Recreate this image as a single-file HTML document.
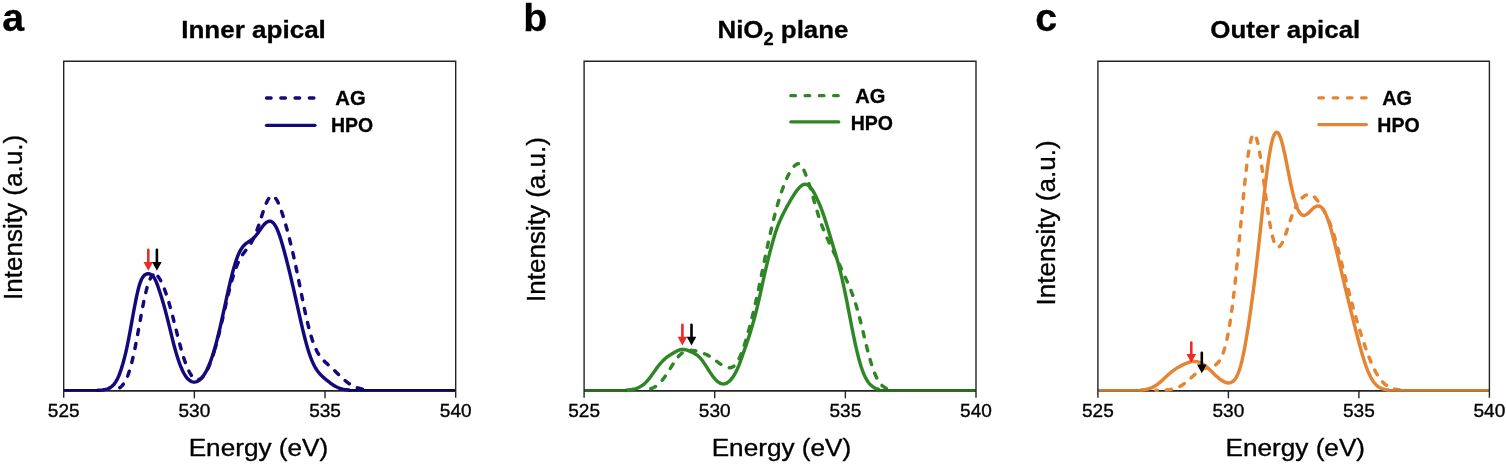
<!DOCTYPE html>
<html lang="en">
<head>
<meta charset="utf-8">
<title>Oxygen K-edge spectra: inner apical, NiO2 plane, outer apical</title>
<style>
html,body{margin:0;padding:0;background:#fff;}
body{width:1506px;height:466px;overflow:hidden;}
svg{display:block;}
text{font-family:"Liberation Sans",sans-serif;fill:#000;stroke:#000;stroke-width:0.35px;stroke-linejoin:round;}
.b{font-weight:bold;stroke-width:0.3px;}
.r{font-weight:normal;}
.d{fill:none;stroke-linecap:round;stroke-linejoin:round;}
</style>
</head>
<body>
<svg width="1506" height="466" viewBox="0 0 1506 466">
<rect x="0" y="0" width="1506" height="466" fill="#ffffff"/>
<g id="panel-a">
<text class="b" font-size="39.3" transform="translate(2.22,30.9) scale(1.0000,1)">a</text>
<text class="b" font-size="24.8" transform="translate(181.24,38) scale(1.0500,1)">Inner apical</text>
<text class="r" font-size="26.6" transform="translate(21.8,300.12) rotate(-90) scale(0.9818,1)">Intensity (a.u.)</text>
<text class="r" font-size="24.4" transform="translate(188.64,455.9) scale(1.0732,1)">Energy (eV)</text>
<path d="M63.7,390.85H455.7" fill="none" stroke="#242424" stroke-width="1.7"/>
<path class="d" d="M113.7,390.3L114.7,389.8L115.7,389.6L116.7,389.3L117.7,388.9L118.7,388.4L119.7,387.8L120.7,387.1L121.7,386.1L122.7,385.0L123.7,383.7L124.7,382.1L125.7,380.3L126.7,378.2L127.7,375.8L128.7,373.0L129.7,370.0L130.7,366.5L131.7,362.8L132.7,358.7L133.7,354.3L134.7,349.6L135.7,344.7L136.7,339.5L137.7,334.1L138.7,328.7L139.7,323.2L140.7,317.7L141.7,312.3L142.7,307.0L143.7,302.0L144.7,297.2L145.7,292.8L146.7,288.9L147.7,285.3L148.7,282.3L149.7,279.8L150.7,277.7L151.7,276.2L152.7,275.2L153,275.0" stroke="#14097c" stroke-width="3.45" stroke-dasharray="5.2 9.06" stroke-dashoffset="7.66"/>
<path class="d" d="M153,275.0L153.7,274.6L154.7,274.4L155.7,274.7L156.7,275.3L157.7,276.2L158.7,277.4L159.7,278.9L160.7,280.6L161.7,282.6L162.7,284.8L163.7,287.2L164.7,289.8L165.7,292.5L166.7,295.5L167.7,298.6L168.7,301.9L169.7,305.4L170.7,308.9L171.7,312.6L172.7,316.4L173.7,320.3L174.7,324.3L175.7,328.2L176.7,332.2L177.7,336.1L178.7,340.0L179.7,343.8L180.7,347.5L181.7,351.0L182.7,354.5L183.7,357.7L184.7,360.7L185.7,363.5L186.7,366.2L187.7,368.5L188.7,370.7L189.7,372.6L190.7,374.3L191.7,375.8L192.7,377.0L193.7,378.0L194.7,378.7L195.7,379.3L196.7,379.6L197.7,379.7L198.7,379.5L199.7,379.2L200.7,378.7L201.7,377.9L202.7,377.0L203.7,375.8L204.7,374.4L205.7,372.9L206.7,371.1L207.7,369.2L208.7,367.0L209.7,364.6L210.7,362.1L211.7,359.3L212.7,356.3L213.7,353.2L214.7,349.9L215,348.8" stroke="#14097c" stroke-width="3.45" stroke-dasharray="5.2 9.06" stroke-dashoffset="8.56"/>
<path class="d" d="M215,348.8L215.7,346.4L216.7,342.7L217.7,338.9L218.7,335.0L219.7,330.9L220.7,326.8L221.7,322.5L222.7,318.3L223.7,313.9L224.7,309.6L225.7,305.3L226.7,301.0L227.7,296.8L228.7,292.7L229.7,288.7L230.7,284.9L231.7,281.2L232.7,277.8L233.7,274.5L234.7,271.4L235.7,268.6L236.7,266.0L237.7,263.6L238.7,261.4L239.7,259.4L240.7,257.6L241.7,256.0L242.7,254.5L243.7,253.1L244.7,251.8L245.7,250.5L246.7,249.3L247.7,248.0L248.7,246.6L249.7,245.2L250.7,243.6L251.7,241.9L252.7,240.0L253.7,238.0L254.7,235.8L255.7,233.4L256.7,230.9L257.7,228.1L258.7,225.3L259.7,222.3L260.7,219.2L261.7,216.1L262.7,213.0L263.7,210.0L264.7,207.2L265.7,204.6L266.7,202.2L267.7,200.2L268.7,198.6L269.7,197.3L270.7,196.4L271.7,196.0L272.7,196.0L273.7,196.4L274.7,197.2L275.7,198.4L276.7,199.9L277.7,201.7L278.7,203.9L279.7,206.3L280.7,209.0L281.7,211.8L282.7,214.8L283.7,218.0L284.7,221.3L285.7,224.8L286.7,228.3L287.7,232.0L288.7,235.8L289.7,239.7L290.7,243.8L291.7,247.9L292.7,252.2L293.7,256.6L294.7,261.2L295.7,265.8L296.7,270.6L297.7,275.5L298.7,280.4L299.7,285.4L300.7,290.4L301.7,295.4L302.7,300.3L303.7,305.2L304.7,310.0L305.7,314.6L306.7,319.1L307.7,323.3L308.7,327.4L309.7,331.2L310.7,334.7L311.7,338.0L312.7,341.1L313.7,343.9L314.7,346.4L315.7,348.7L316.7,350.8L317.7,352.6L318.7,354.3L319.7,355.8L320.7,357.2L321.7,358.4L322.7,359.6L323.7,360.6L324.7,361.6L325.7,362.5L326.7,363.4L327.7,364.3L328.7,365.2L329.7,366.1L330.7,367.0L331.7,367.9L332.7,368.8L333.7,369.8L334.7,370.7L335.7,371.7L336.7,372.7L337.7,373.6L338.7,374.6L339.7,375.6L340.7,376.5L341.7,377.5L342.7,378.4L343.7,379.3L344.7,380.2L345.7,381.0L346.7,381.8L347.7,382.6L348.7,383.3L349.7,384.0L350.7,384.6L351.7,385.2L352.7,385.8L353.7,386.3L354.7,386.7L355.7,387.2L356.7,387.6L357.7,387.9L358.7,388.2L359.7,388.5L360.7,388.8L361.7,389.0L362.7,389.2L363.7,389.3L364.7,389.5L365.7,389.6L366.7,389.7L367.7,389.8L368.7,390.3" stroke="#14097c" stroke-width="3.45" stroke-dasharray="5.2 9.06" stroke-dashoffset="1.29"/>
<path class="d" d="M97.7,390.3L98.7,390.3L99.7,390.2L100.7,390.2L101.7,390.1L102.7,390.0L103.7,389.8L104.7,389.6L105.7,389.4L106.7,389.1L107.7,388.8L108.7,388.4L109.7,387.9L110.7,387.3L111.7,386.5L112.7,385.7L113.7,384.6L114.7,383.4L115.7,381.9L116.7,380.2L117.7,378.2L118.7,376.0L119.7,373.5L120.7,370.7L121.7,367.6L122.7,364.3L123.7,360.7L124.7,356.9L125.7,352.8L126.7,348.4L127.7,343.7L128.7,338.6L129.7,333.4L130.7,327.9L131.7,322.4L132.7,316.8L133.7,311.3L134.7,306.0L135.7,300.8L136.7,296.0L137.7,291.5L138.7,287.5L139.7,284.1L140.7,281.3L141.7,279.0L142.7,277.3L143.7,275.9L144.7,275.0L145.7,274.3L146.7,274.0L147.7,273.8L148.7,273.8L149.7,274.0L150.7,274.4L151.7,275.1L152.7,276.0L153.7,277.2L154.7,278.8L155.7,280.7L156.7,283.1L157.7,285.8L158.7,288.7L159.7,291.7L160.7,294.8L161.7,298.0L162.7,301.3L163.7,304.8L164.7,308.3L165.7,312.0L166.7,315.9L167.7,319.8L168.7,323.8L169.7,327.9L170.7,332.0L171.7,336.1L172.7,340.2L173.7,344.1L174.7,347.8L175.7,351.4L176.7,354.8L177.7,358.0L178.7,361.0L179.7,363.9L180.7,366.5L181.7,368.8L182.7,371.0L183.7,373.0L184.7,374.7L185.7,376.3L186.7,377.6L187.7,378.8L188.7,379.7L189.7,380.5L190.7,381.2L191.7,381.6L192.7,381.9L193.7,382.1L194.7,382.1L195.7,381.9L196.7,381.6L197.7,381.2L198.7,380.6L199.7,379.8L200.7,379.0L201.7,377.9L202.7,376.7L203.7,375.3L204.7,373.8L205.7,372.1L206.7,370.2L207.7,368.1L208.7,365.9L209.7,363.5L210.7,360.8L211.7,358.0L212.7,355.0L213.7,351.8L214.7,348.4L215.7,344.9L216.7,341.1L217.7,337.2L218.7,333.2L219.7,329.0L220.7,324.6L221.7,320.2L222.7,315.7L223.7,311.2L224.7,306.6L225.7,302.0L226.7,297.4L227.7,292.9L228.7,288.5L229.7,284.1L230.7,279.9L231.7,275.9L232.7,272.0L233.7,268.4L234.7,265.0L235.7,261.8L236.7,258.9L237.7,256.2L238.7,253.8L239.7,251.7L240.7,249.9L241.7,248.3L242.7,246.9L243.7,245.7L244.7,244.7L245.7,243.8L246.7,243.0L247.7,242.4L248.7,241.7L249.7,241.1L250.7,240.4L251.7,239.7L252.7,238.8L253.7,237.9L254.7,236.9L255.7,235.8L256.7,234.5L257.7,233.2L258.7,231.8L259.7,230.4L260.7,229.0L261.7,227.6L262.7,226.3L263.7,225.0L264.7,223.9L265.7,223.0L266.7,222.2L267.7,221.7L268.7,221.3L269.7,221.2L270.7,221.3L271.7,221.8L272.7,222.4L273.7,223.4L274.7,224.8L275.7,226.4L276.7,228.3L277.7,230.6L278.7,233.1L279.7,235.9L280.7,239.0L281.7,242.3L282.7,245.7L283.7,249.3L284.7,253.0L285.7,256.8L286.7,260.6L287.7,264.6L288.7,268.6L289.7,272.7L290.7,276.8L291.7,281.1L292.7,285.3L293.7,289.7L294.7,294.1L295.7,298.5L296.7,303.0L297.7,307.5L298.7,312.0L299.7,316.4L300.7,320.8L301.7,325.2L302.7,329.4L303.7,333.6L304.7,337.5L305.7,341.4L306.7,345.0L307.7,348.5L308.7,351.7L309.7,354.7L310.7,357.5L311.7,360.1L312.7,362.4L313.7,364.6L314.7,366.5L315.7,368.3L316.7,369.8L317.7,371.2L318.7,372.5L319.7,373.7L320.7,374.8L321.7,375.8L322.7,376.7L323.7,377.6L324.7,378.5L325.7,379.3L326.7,380.2L327.7,381.0L328.7,381.7L329.7,382.5L330.7,383.3L331.7,384.0L332.7,384.7L333.7,385.3L334.7,385.9L335.7,386.5L336.7,387.0L337.7,387.5L338.7,387.9L339.7,388.3L340.7,388.6L341.7,388.9L342.7,389.2L343.7,389.4L344.7,389.6L345.7,389.7L346.7,389.8L347.7,389.9L348.7,390.0L349.7,390.3" stroke="#14097c" stroke-width="3.45"/>
<path d="M63.7,390.3H98.7M348.7,390.3H455.7" fill="none" stroke="#0c0658" stroke-width="2.75"/>
<path d="M63.7,397.7V61.2H455.7V397.7" fill="none" stroke="#242424" stroke-width="1.4"/>
<text class="r" font-size="19" transform="translate(47.81,417.25) scale(1.0030,1)">525</text>
<line x1="194.37" y1="390.3" x2="194.37" y2="398.3" stroke="#242424" stroke-width="1.4"/>
<text class="r" font-size="19" transform="translate(178.45,417.25) scale(1.0030,1)">530</text>
<line x1="325.03" y1="390.3" x2="325.03" y2="398.3" stroke="#242424" stroke-width="1.4"/>
<text class="r" font-size="19" transform="translate(309.14,417.25) scale(1.0030,1)">535</text>
<text class="r" font-size="19" transform="translate(439.79,417.25) scale(1.0030,1)">540</text>
<path d="M147,249.9A1.3,1.3 0 0 1 149.6,249.9V262H153.1L148.3,270.8L143.5,262H147Z" fill="#ee2a24"/>
<path d="M155.6,249.9A1.3,1.3 0 0 1 158.2,249.9V262H161.7L156.9,270.8L152.1,262H155.6Z" fill="#000"/>
<line class="d" x1="266.55" y1="98" x2="314.95" y2="98" stroke="#14097c" stroke-width="3.3" stroke-dasharray="4.6 9.65"/>
<line class="d" x1="266.55" y1="125.3" x2="314.95" y2="125.3" stroke="#14097c" stroke-width="3.3"/>
<text class="b" font-size="19.4" transform="translate(335.29,104.9) scale(1.0437,1)">AG</text>
<text class="b" font-size="19.4" transform="translate(330.89,131.9) scale(1.0021,1)">HPO</text>
</g>
<g id="panel-b">
<text class="b" font-size="39.3" transform="translate(523.35,30.9) scale(1.0000,1)">b</text>
<text class="b" font-size="24.8" transform="translate(717.45,38) scale(1.0440,1)">NiO<tspan font-size="17.5" dy="6.7">2</tspan><tspan dy="-6.7"> plane</tspan></text>
<text class="r" font-size="26.6" transform="translate(544.8,302.01) rotate(-90) scale(0.9794,1)">Intensity (a.u.)</text>
<text class="r" font-size="24.4" transform="translate(711.64,455.9) scale(1.0732,1)">Energy (eV)</text>
<path d="M584.1,390.85H976" fill="none" stroke="#242424" stroke-width="1.7"/>
<path class="d" d="M646.1,390.3L647.1,389.6L648.1,389.4L649.1,389.2L650.1,388.9L651.1,388.6L652.1,388.2L653.1,387.8L654.1,387.3L655.1,386.7L656.1,386.1L657.1,385.3L658.1,384.5L659.1,383.6L660.1,382.6L661.1,381.6L662.1,380.4L663.1,379.1L664.1,377.8L665.1,376.4L666.1,375.0L667.1,373.4L668.1,371.9L669.1,370.3L670.1,368.7L671.1,367.1L672.1,365.4L673.1,363.9L674.1,362.3L675.1,360.8L676.1,359.4L677.1,358.1L678.1,356.9L679.1,355.7L680.1,354.7L681.1,353.8L682.1,353.0L683.1,352.3L684.1,351.7L685.1,351.3L686.1,350.9L687.1,350.6L688.1,350.4L689.1,350.3L690.1,350.3L691.1,350.3L692.1,350.4L693.1,350.5L694.1,350.6L695.1,350.8L696.1,351.0L697.1,351.3L698.1,351.5L699.1,351.8L700.1,352.1L701.1,352.4L702.1,352.8L703.1,353.1L704.1,353.5L705.1,354.0L706.1,354.4L707.1,354.9L708.1,355.4L709.1,356.0L710.1,356.6L711.1,357.2L712.1,357.9L713.1,358.6L714.1,359.3L715.1,360.1L716.1,360.8L717.1,361.6L718.1,362.3L719.1,363.1L720.1,363.8L721.1,364.5L722.1,365.2L723.1,365.8L724.1,366.4L725.1,366.8L726.1,367.2L727.1,367.5L728.1,367.8L729.1,367.8L730.1,367.8L731.1,367.6L732.1,367.2L733.1,366.7L734.1,365.9L735.1,365.0L736.1,363.8L737.1,362.3L738.1,360.6L739.1,358.7L740.1,356.5L741.1,354.1L742.1,351.6L743.1,348.8L744.1,345.8L745.1,342.7L746.1,339.4L747.1,336.0L748.1,332.5L749.1,328.9L750.1,325.2L751.1,321.3L752.1,317.4L753.1,313.3L754.1,309.1L755.1,304.7L756.1,300.3L757.1,295.8L758.1,291.2L759.1,286.5L760.1,281.8L761.1,277.0L762.1,272.1L763.1,267.3L764.1,262.4L765.1,257.6L766.1,252.8L767.1,248.0L768.1,243.4L769.1,238.8L770.1,234.3L771.1,229.9L772.1,225.7L773.1,221.5L774.1,217.5L775.1,213.6L776.1,209.9L777.1,206.3L778.1,202.8L779.1,199.4L780.1,196.2L781.1,193.2L782.1,190.2L783.1,187.4L784.1,184.8L785.1,182.3L786.1,179.9L787.1,177.6L788.1,175.5L789.1,173.5L790.1,171.7L791.1,170.1L792.1,168.6L793.1,167.3L794.1,166.2L795.1,165.3L796.1,164.6L797.1,164.1L798.1,163.7L799.1,163.6L800.1,163.8L801.1,164.8L802.1,166.3L803.1,168.3L804.1,170.6L805.1,173.0L806.1,175.5L807.1,178.2L808.1,181.1L809.1,184.1L810.1,187.3L811.1,190.6L812.1,194.0L813.1,197.5L814.1,200.9L815.1,204.4L816.1,207.8L817.1,211.1L818.1,214.4L819.1,217.5L820.1,220.5L821.1,223.4L822.1,226.1L823.1,228.7L824.1,231.2L825.1,233.6L826.1,235.9L827.1,238.1L828.1,240.3L829.1,242.4L830.1,244.5L831.1,246.6L832.1,248.7L833.1,250.8L834.1,252.9L835.1,255.0L836.1,257.2L837.1,259.4L838.1,261.6L839.1,263.8L840.1,266.0L841.1,268.2L842.1,270.4L843.1,272.6L844.1,274.7L845.1,276.9L846.1,279.1L847.1,281.4L848.1,283.6L849.1,285.9L850.1,288.3L851.1,290.8L852.1,293.4L853.1,296.2L854.1,299.1L855.1,302.1L856.1,305.3L857.1,308.7L858.1,312.3L859.1,316.0L860.1,319.8L861.1,323.8L862.1,327.9L863.1,332.0L864.1,336.1L865.1,340.3L866.1,344.4L867.1,348.4L868.1,352.3L869.1,356.0L870.1,359.6L871.1,363.0L872.1,366.2L873.1,369.1L874.1,371.8L875.1,374.3L876.1,376.6L877.1,378.6L878.1,380.4L879.1,381.9L880.1,383.3L881.1,384.5L882.1,385.5L883.1,386.4L884.1,387.1L885.1,387.7L886.1,388.3L887.1,388.7L888.1,389.0L889.1,389.3L890.1,389.5L891.1,390.3" stroke="#2f8626" stroke-width="3.45" stroke-dasharray="5.2 9.16" stroke-dashoffset="9.31"/>
<path class="d" d="M626.1,390.3L627.1,390.1L628.1,390.0L629.1,389.9L630.1,389.8L631.1,389.7L632.1,389.5L633.1,389.3L634.1,389.1L635.1,388.9L636.1,388.6L637.1,388.2L638.1,387.8L639.1,387.3L640.1,386.8L641.1,386.2L642.1,385.5L643.1,384.8L644.1,384.0L645.1,383.1L646.1,382.1L647.1,381.0L648.1,379.9L649.1,378.7L650.1,377.4L651.1,376.0L652.1,374.6L653.1,373.2L654.1,371.8L655.1,370.4L656.1,369.0L657.1,367.6L658.1,366.3L659.1,365.0L660.1,363.8L661.1,362.6L662.1,361.6L663.1,360.5L664.1,359.6L665.1,358.7L666.1,357.8L667.1,357.0L668.1,356.3L669.1,355.6L670.1,355.0L671.1,354.4L672.1,353.8L673.1,353.2L674.1,352.6L675.1,352.0L676.1,351.5L677.1,350.9L678.1,350.5L679.1,350.1L680.1,349.7L681.1,349.5L682.1,349.4L683.1,349.4L684.1,349.5L685.1,349.7L686.1,349.9L687.1,350.2L688.1,350.5L689.1,350.9L690.1,351.4L691.1,351.8L692.1,352.3L693.1,352.8L694.1,353.3L695.1,353.9L696.1,354.5L697.1,355.2L698.1,356.0L699.1,356.9L700.1,357.9L701.1,359.0L702.1,360.3L703.1,361.6L704.1,363.1L705.1,364.6L706.1,366.1L707.1,367.7L708.1,369.3L709.1,370.9L710.1,372.4L711.1,373.9L712.1,375.3L713.1,376.7L714.1,378.0L715.1,379.1L716.1,380.2L717.1,381.1L718.1,381.9L719.1,382.6L720.1,383.2L721.1,383.6L722.1,383.8L723.1,383.9L724.1,383.9L725.1,383.7L726.1,383.4L727.1,382.9L728.1,382.2L729.1,381.5L730.1,380.5L731.1,379.4L732.1,378.2L733.1,376.7L734.1,375.2L735.1,373.4L736.1,371.5L737.1,369.5L738.1,367.2L739.1,364.8L740.1,362.2L741.1,359.5L742.1,356.7L743.1,353.8L744.1,350.9L745.1,348.0L746.1,345.1L747.1,342.2L748.1,339.2L749.1,336.1L750.1,332.9L751.1,329.7L752.1,326.4L753.1,322.9L754.1,319.3L755.1,315.5L756.1,311.6L757.1,307.6L758.1,303.4L759.1,299.0L760.1,294.6L761.1,290.1L762.1,285.5L763.1,281.0L764.1,276.5L765.1,272.0L766.1,267.7L767.1,263.5L768.1,259.4L769.1,255.4L770.1,251.5L771.1,247.8L772.1,244.1L773.1,240.5L774.1,237.1L775.1,233.8L776.1,230.8L777.1,227.9L778.1,225.2L779.1,222.7L780.1,220.4L781.1,218.1L782.1,216.0L783.1,214.0L784.1,212.0L785.1,210.1L786.1,208.2L787.1,206.3L788.1,204.5L789.1,202.8L790.1,201.0L791.1,199.3L792.1,197.7L793.1,196.1L794.1,194.5L795.1,193.0L796.1,191.6L797.1,190.3L798.1,189.0L799.1,187.9L800.1,186.9L801.1,186.0L802.1,185.3L803.1,184.7L804.1,184.4L805.1,184.3L806.1,184.4L807.1,184.7L808.1,185.2L809.1,186.0L810.1,187.0L811.1,188.2L812.1,189.5L813.1,191.1L814.1,192.9L815.1,194.7L816.1,196.8L817.1,198.9L818.1,201.1L819.1,203.3L820.1,205.7L821.1,208.2L822.1,210.8L823.1,213.6L824.1,216.5L825.1,219.6L826.1,222.8L827.1,226.0L828.1,229.3L829.1,232.6L830.1,235.9L831.1,239.3L832.1,242.6L833.1,246.0L834.1,249.3L835.1,252.6L836.1,256.0L837.1,259.5L838.1,263.0L839.1,266.7L840.1,270.6L841.1,274.7L842.1,278.9L843.1,283.4L844.1,288.0L845.1,292.8L846.1,297.7L847.1,302.7L848.1,307.8L849.1,313.0L850.1,318.2L851.1,323.4L852.1,328.5L853.1,333.5L854.1,338.4L855.1,343.1L856.1,347.6L857.1,351.9L858.1,355.9L859.1,359.7L860.1,363.2L861.1,366.5L862.1,369.5L863.1,372.2L864.1,374.6L865.1,376.8L866.1,378.7L867.1,380.5L868.1,382.0L869.1,383.3L870.1,384.4L871.1,385.4L872.1,386.2L873.1,387.0L874.1,387.6L875.1,388.1L876.1,388.5L877.1,388.8L878.1,389.1L879.1,390.3" stroke="#2f8626" stroke-width="3.45"/>
<path d="M584.1,390.3H627.1M878.1,390.3H976" fill="none" stroke="#256e1d" stroke-width="2.75"/>
<path d="M584.1,397.7V61.2H976V397.7" fill="none" stroke="#242424" stroke-width="1.4"/>
<text class="r" font-size="19" transform="translate(568.21,417.25) scale(1.0030,1)">525</text>
<line x1="714.73" y1="390.3" x2="714.73" y2="398.3" stroke="#242424" stroke-width="1.4"/>
<text class="r" font-size="19" transform="translate(698.82,417.25) scale(1.0030,1)">530</text>
<line x1="845.37" y1="390.3" x2="845.37" y2="398.3" stroke="#242424" stroke-width="1.4"/>
<text class="r" font-size="19" transform="translate(829.48,417.25) scale(1.0030,1)">535</text>
<text class="r" font-size="19" transform="translate(960.09,417.25) scale(1.0030,1)">540</text>
<path d="M681.1,324.7A1.3,1.3 0 0 1 683.7,324.7V336.7H687.2L682.4,345.5L677.6,336.7H681.1Z" fill="#ee2a24"/>
<path d="M690.2,324.7A1.3,1.3 0 0 1 692.8,324.7V336.7H696.3L691.5,345.5L686.7,336.7H690.2Z" fill="#000"/>
<line class="d" x1="790.85" y1="95.7" x2="838.75" y2="95.7" stroke="#2f8626" stroke-width="3.3" stroke-dasharray="4.6 9.65"/>
<line class="d" x1="790.85" y1="121.95" x2="838.75" y2="121.95" stroke="#2f8626" stroke-width="3.3"/>
<text class="b" font-size="19.4" transform="translate(855.3,102.9) scale(1.0364,1)">AG</text>
<text class="b" font-size="19.4" transform="translate(850.68,129.5) scale(1.0071,1)">HPO</text>
</g>
<g id="panel-c">
<text class="b" font-size="39.3" transform="translate(1035.13,30.9) scale(1.0000,1)">c</text>
<text class="b" font-size="24.8" transform="translate(1210.26,38) scale(1.0475,1)">Outer apical</text>
<text class="r" font-size="26.6" transform="translate(1054.8,305.41) rotate(-90) scale(0.9794,1)">Intensity (a.u.)</text>
<text class="r" font-size="24.4" transform="translate(1225.44,455.9) scale(1.0732,1)">Energy (eV)</text>
<path d="M1097.9,390.85H1489.4" fill="none" stroke="#242424" stroke-width="1.7"/>
<path class="d" d="M1155.9,390.3L1156.9,390.3L1157.9,390.3L1158.9,390.2L1159.9,390.2L1160.9,390.2L1161.9,390.2L1162.9,390.1L1163.9,390.1L1164.9,390.0L1165.9,390.0L1166.9,389.9L1167.9,389.8L1168.9,389.7L1169.9,389.6L1170.9,389.4L1171.9,389.2L1172.9,389.0L1173.9,388.7L1174.9,388.5L1175.9,388.1L1176.9,387.8L1177.9,387.4L1178.9,386.9L1179.9,386.4L1180.9,385.9L1181.9,385.3L1182.9,384.6L1183.9,383.9L1184.9,383.2L1185.9,382.4L1186.9,381.6L1187.9,380.7L1188.9,379.9L1189.9,379.0L1190.9,378.1L1191.9,377.1L1192.9,376.2L1193.9,375.3L1194.9,374.4L1195.9,373.6L1196.9,372.8L1197.9,372.0L1198.9,371.3L1199.9,370.7L1200.9,370.1L1201.9,369.6L1202.9,369.1L1203.9,368.7L1204.9,368.3L1205.9,368.0L1206.9,367.8L1207.9,367.5L1208.9,367.3L1209.9,367.1L1210.9,366.8L1211.9,366.6L1212.9,366.2L1213.9,365.8L1214.9,365.3L1215.9,364.7L1216.9,363.8L1217.9,362.8L1218.9,361.6L1219.9,360.1L1220.9,358.3L1221.9,356.2L1222.9,353.8L1223.9,350.9L1224.9,347.6L1225.9,343.8L1226.9,339.5L1227.9,334.7L1228.9,329.3L1229.9,323.3L1230.9,316.7L1231.9,309.5L1232.9,301.8L1233.9,293.4L1234.9,284.6L1235.9,275.2L1236.9,265.3L1237.9,255.1L1238.9,244.6L1239.9,233.9L1240.9,223.1L1241.9,212.4L1242.9,201.9L1243.9,191.6L1244.9,181.9L1245.9,172.7L1246.9,164.2L1247.9,156.6L1248.9,150.0L1249.9,144.5L1250.9,140.1L1251.9,136.9L1252.9,134.9L1253.9,134.2L1254.9,134.8L1255.9,136.6L1256.9,139.5L1257.9,143.4L1258.9,148.3L1259.9,154.0L1260.9,160.4L1261.9,167.3L1262.9,174.6L1263.9,182.1L1264.9,189.7L1265.9,197.2L1266.9,204.5L1267.9,211.5L1268.9,218.0L1269.9,224.0L1270.9,229.4L1271.9,234.1L1272.9,238.1L1273.9,241.3L1274.9,243.8L1275.9,245.6L1276.9,246.7L1277.9,247.2L1278.9,247.0L1279.9,246.2L1280.9,245.0L1281.9,243.3L1282.9,241.2L1283.9,238.8L1284.9,236.2L1285.9,233.4L1286.9,230.4L1287.9,227.5L1288.9,224.5L1289.9,221.5L1290.9,218.7L1291.9,215.9L1292.9,213.3L1293.9,210.9L1294.9,208.6L1295.9,206.6L1296.3,205.8" stroke="#e58534" stroke-width="3.45" stroke-dasharray="5.2 8.98" stroke-dashoffset="3.82"/>
<path class="d" d="M1296.3,205.8L1296.9,204.7L1297.9,203.0L1298.9,201.5L1299.9,200.2L1300.9,199.0L1301.9,198.0L1302.9,197.1L1303.9,196.4L1304.9,195.7L1305.9,195.2L1306.9,194.8L1307.9,194.5L1308.9,194.4L1309.9,194.5L1310.9,194.7L1311.9,195.1L1312.9,195.7L1313.9,196.5L1314.9,197.5L1315.9,198.6L1316.9,199.8L1317.9,201.2L1318.9,202.6L1319.9,204.1L1320.9,205.7L1321.9,207.3L1322.9,208.9L1323.9,210.7L1324.9,212.5L1325.9,214.4L1326.9,216.5L1327.9,218.6L1328.9,220.9L1329.9,223.4L1330.9,226.0L1331.9,228.8L1332.9,231.8L1333.9,234.9L1334.9,238.1L1335.9,241.5L1336.9,245.0L1337.9,248.7L1338.9,252.4L1339.9,256.2L1340.9,260.1L1341.9,264.1L1342.9,268.0L1343.9,272.0L1344.9,276.0L1345.9,280.0L1346.9,284.0L1347.9,287.9L1348.9,291.8L1349.9,295.7L1350.9,299.5L1351.9,303.2L1352.9,306.9L1353.9,310.5L1354.9,314.0L1355.9,317.5L1356.9,320.9L1357.9,324.3L1358.9,327.6L1359.9,330.8L1360.9,334.0L1361.9,337.1L1362.9,340.1L1363.9,343.1L1364.9,346.0L1365.9,348.8L1366.9,351.6L1367.9,354.3L1368.9,356.9L1369.9,359.4L1370.9,361.8L1371.9,364.1L1372.9,366.3L1373.9,368.4L1374.9,370.4L1375.9,372.3L1376.9,374.1L1377.9,375.7L1378.9,377.2L1379.9,378.7L1380.9,380.0L1381.9,381.2L1382.9,382.3L1383.9,383.3L1384.9,384.2L1385.9,385.0L1386.9,385.7L1387.9,386.4L1388.9,386.9L1389.9,387.4L1390.9,387.9L1391.9,388.3L1392.9,388.6L1393.9,388.9L1394.9,389.1L1395.9,389.3L1396.9,389.5L1397.9,389.6L1398.9,389.8L1399.9,389.9L1400.9,389.9L1401.9,390.3" stroke="#e58534" stroke-width="3.45" stroke-dasharray="5.2 8.98" stroke-dashoffset="4.33"/>
<path class="d" d="M1140.9,390.3L1141.9,389.9L1142.9,389.8L1143.9,389.7L1144.9,389.6L1145.9,389.4L1146.9,389.2L1147.9,389.0L1148.9,388.7L1149.9,388.4L1150.9,388.0L1151.9,387.6L1152.9,387.1L1153.9,386.6L1154.9,386.1L1155.9,385.4L1156.9,384.8L1157.9,384.0L1158.9,383.2L1159.9,382.4L1160.9,381.5L1161.9,380.6L1162.9,379.7L1163.9,378.8L1164.9,377.8L1165.9,376.9L1166.9,376.0L1167.9,375.0L1168.9,374.1L1169.9,373.3L1170.9,372.4L1171.9,371.6L1172.9,370.9L1173.9,370.1L1174.9,369.4L1175.9,368.8L1176.9,368.1L1177.9,367.5L1178.9,367.0L1179.9,366.4L1180.9,365.9L1181.9,365.3L1182.9,364.8L1183.9,364.4L1184.9,363.9L1185.9,363.5L1186.9,363.1L1187.9,362.7L1188.9,362.3L1189.9,362.0L1190.9,361.8L1191.9,361.6L1192.9,361.5L1193.9,361.4L1194.9,361.4L1195.9,361.5L1196.9,361.6L1197.9,361.9L1198.9,362.2L1199.9,362.6L1200.9,363.0L1201.9,363.6L1202.9,364.2L1203.9,364.8L1204.9,365.6L1205.9,366.4L1206.9,367.2L1207.9,368.1L1208.9,369.0L1209.9,369.9L1210.9,370.9L1211.9,371.8L1212.9,372.8L1213.9,373.8L1214.9,374.7L1215.9,375.7L1216.9,376.6L1217.9,377.4L1218.9,378.3L1219.9,379.1L1220.9,379.8L1221.9,380.5L1222.9,381.1L1223.9,381.6L1224.9,382.1L1225.9,382.5L1226.9,382.7L1227.9,382.9L1228.9,382.9L1229.9,382.8L1230.9,382.5L1231.9,382.0L1232.9,381.4L1233.9,380.5L1234.9,379.3L1235.9,377.9L1236.9,376.1L1237.9,373.9L1238.9,371.4L1239.9,368.4L1240.9,364.9L1241.9,361.0L1242.9,356.6L1243.9,351.8L1244.9,346.6L1245.9,340.9L1246.9,335.0L1247.9,328.7L1248.9,322.2L1249.9,315.5L1250.9,308.5L1251.9,301.3L1252.9,293.8L1253.9,286.1L1254.9,278.2L1255.9,269.9L1256.9,261.3L1257.9,252.5L1258.9,243.5L1259.9,234.2L1260.9,224.9L1261.9,215.6L1262.9,206.3L1263.9,197.2L1264.9,188.4L1265.9,179.9L1266.9,171.9L1267.9,164.5L1268.9,157.7L1269.9,151.7L1270.9,146.3L1271.9,141.8L1272.9,138.2L1273.9,135.4L1274.9,133.5L1275.9,132.4L1276.9,132.2L1277.9,132.8L1278.9,134.1L1279.9,136.2L1280.9,139.0L1281.9,142.3L1282.9,146.1L1283.9,150.3L1284.9,154.9L1285.9,159.7L1286.9,164.7L1287.9,169.8L1288.9,174.8L1289.9,179.8L1290.9,184.6L1291.9,189.1L1292.9,193.4L1293.9,197.4L1294.9,201.0L1295.9,204.2L1296.9,207.0L1297.9,209.4L1298.9,211.4L1299.9,213.0L1300.9,214.1L1301.9,214.9L1302.9,215.3L1303.9,215.4L1304.9,215.3L1305.9,214.8L1306.9,214.2L1307.9,213.4L1308.9,212.5L1309.9,211.5L1310.9,210.5L1311.9,209.5L1312.9,208.6L1313.9,207.7L1314.9,207.0L1315.9,206.4L1316.9,206.1L1317.9,205.9L1318.9,206.0L1319.9,206.3L1320.9,206.9L1321.9,207.8L1322.9,209.0L1323.9,210.5L1324.9,212.3L1325.9,214.4L1326.9,216.8L1327.9,219.4L1328.9,222.4L1329.9,225.5L1330.9,228.9L1331.9,232.5L1332.9,236.2L1333.9,240.1L1334.9,244.1L1335.9,248.2L1336.9,252.4L1337.9,256.6L1338.9,260.9L1339.9,265.2L1340.9,269.4L1341.9,273.7L1342.9,277.9L1343.9,282.1L1344.9,286.3L1345.9,290.4L1346.9,294.5L1347.9,298.6L1348.9,302.7L1349.9,306.7L1350.9,310.8L1351.9,314.8L1352.9,318.8L1353.9,322.8L1354.9,326.8L1355.9,330.7L1356.9,334.6L1357.9,338.5L1358.9,342.3L1359.9,346.0L1360.9,349.6L1361.9,353.2L1362.9,356.6L1363.9,359.8L1364.9,362.9L1365.9,365.8L1366.9,368.5L1367.9,371.1L1368.9,373.4L1369.9,375.6L1370.9,377.5L1371.9,379.3L1372.9,380.9L1373.9,382.3L1374.9,383.5L1375.9,384.6L1376.9,385.6L1377.9,386.4L1378.9,387.1L1379.9,387.7L1380.9,388.2L1381.9,388.6L1382.9,388.9L1383.9,389.2L1384.9,389.4L1385.9,389.6L1386.9,389.8L1387.9,389.9L1388.9,390.3" stroke="#e58534" stroke-width="3.45"/>
<path d="M1097.9,390.3H1141.9M1387.9,390.3H1489.4" fill="none" stroke="#c97a33" stroke-width="2.75"/>
<path d="M1097.9,397.7V61.2H1489.4V397.7" fill="none" stroke="#242424" stroke-width="1.4"/>
<text class="r" font-size="19" transform="translate(1082.01,417.25) scale(1.0030,1)">525</text>
<line x1="1228.4" y1="390.3" x2="1228.4" y2="398.3" stroke="#242424" stroke-width="1.4"/>
<text class="r" font-size="19" transform="translate(1212.49,417.25) scale(1.0030,1)">530</text>
<line x1="1358.9" y1="390.3" x2="1358.9" y2="398.3" stroke="#242424" stroke-width="1.4"/>
<text class="r" font-size="19" transform="translate(1343.01,417.25) scale(1.0030,1)">535</text>
<text class="r" font-size="19" transform="translate(1473.49,417.25) scale(1.0030,1)">540</text>
<path d="M1190,342.6A1.3,1.3 0 0 1 1192.6,342.6V354H1196.1L1191.3,362.8L1186.5,354H1190Z" fill="#ee2a24"/>
<path d="M1200.5,352.9A1.3,1.3 0 0 1 1203.1,352.9V364.4H1206.6L1201.8,373.2L1197,364.4H1200.5Z" fill="#000"/>
<line class="d" x1="1318.85" y1="97.8" x2="1366.35" y2="97.8" stroke="#e58534" stroke-width="3.3" stroke-dasharray="4.6 9.65"/>
<line class="d" x1="1318.85" y1="124.6" x2="1366.35" y2="124.6" stroke="#e58534" stroke-width="3.3"/>
<text class="b" font-size="19.4" transform="translate(1382.2,104.7) scale(1.0255,1)">AG</text>
<text class="b" font-size="19.4" transform="translate(1377.28,131.6) scale(1.0071,1)">HPO</text>
</g>
</svg>
</body>
</html>
